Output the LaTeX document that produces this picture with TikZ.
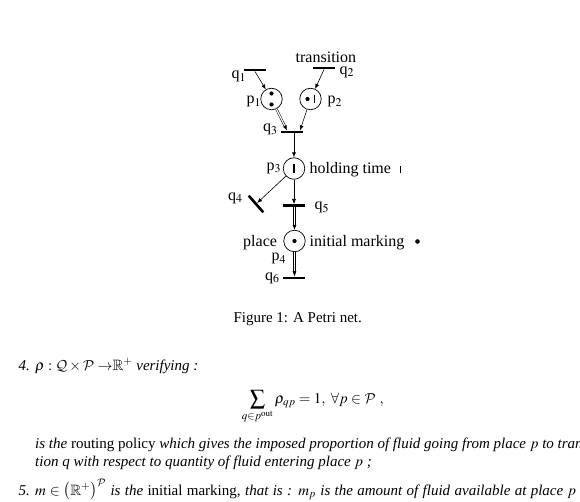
\documentclass[tikz,border=0pt]{standalone}
\usepackage{mathptmx}
\usepackage{amssymb}
\DeclareMathAlphabet{\mathcal}{OMS}{cmsy}{m}{n}
\usepackage{fontspec}
\setmainfont{Liberation Serif}
\usetikzlibrary{arrows.meta,calc}
\begin{document}
\begin{tikzpicture}[x=1pt,y=-1pt,
  place/.style={circle,draw,line width=0.7pt,minimum size=21.5pt,inner sep=0pt},
  trans/.style={rectangle,fill=black,minimum width=22pt,minimum height=2.6pt,inner sep=0pt},
  lbl/.style={font=\fontsize{16}{18}\selectfont,inner sep=0pt,anchor=base west},
  txt/.style={font=\fontsize{15}{18}\selectfont,inner sep=0pt,anchor=base west},
  arr/.style={-{Latex[length=5pt,width=4pt]},line width=0.6pt},
  dbl/.style={double,double distance=1.2pt,line width=0.5pt},
  tok/.style={fill=black,circle,inner sep=0pt,minimum size=4.2pt},
  tbar/.style={line width=1.1pt}]
\useasboundingbox (0,0) rectangle (580,502);
\clip (0,0) rectangle (580,502);
% places
\node[place] (p1) at (271.5,99) {};
\node[place] (p2) at (310.5,99) {};
\node[place] (p3) at (294,168.5) {};
\node[place] (p4) at (294.5,241) {};
% transitions
\node[trans] (q1) at (255,70) {};
\node[trans] (q2) at (324,68) {};
\node[trans] (q3) at (291.5,132) {};
\node[trans,rotate=-48.7] (q4) at (256,204) {};
\node[trans] (q5) at (293.5,205.5) {};
\node[trans] (q6) at (294,278) {};
% tokens
\node[tok] (t11) at ($(p1)+(0,-5.5)$) {};
\node[tok] (t12) at ($(p1)+(0,5.5)$) {};
\node[tok] (t21) at ($(p2)+(-3,0)$) {};
\draw[tbar] ($(p2)+(4,-4)$) -- ($(p2)+(4,4)$);
\draw[tbar] ($(p3)+(0,-4.3)$) -- ($(p3)+(0,4.3)$);
\node[tok] (t4) at (p4) {};
% single arcs
\draw[arr] (q1.south) -- (p1);
\draw[arr] (q2.south) -- (p2);
\coordinate (q3b) at ($(q3.north)+(8.5,0)$);
\draw[arr] (p2) -- (q3b);
\draw[arr] (q3.south -| p3) -- (p3);
\draw[arr] (p3) -- (p3 |- q5.north);
\draw[arr] (p3) -- (q4.north);
% double arcs
\coordinate (q3a) at ($(q3.north)+(-4.5,0)$);
\draw[dbl,shorten >=4.5pt] (p1) -- (q3a);
\draw[arr] ($(q3a)!5pt!(p1)$) -- (q3a);
\coordinate (p4n) at (p4.north);
\draw[dbl,shorten >=4.5pt] (q5.south -| p4) -- (p4n);
\draw[arr] ($(p4n)+(0,-5)$) -- (p4n);
\coordinate (q6n) at (p4 |- q6.north);
\draw[dbl,shorten >=4.5pt] (p4.south) -- (q6n);
\draw[arr] ($(q6n)+(0,-5)$) -- (q6n);
% labels
\node[lbl] (lt) at (295.5,62.5) {transition};
\node[lbl] (lq1) at (231.5,79) {q$_1$};
\node[lbl] (lq2) at (339.5,74.5) {q$_2$};
\node[lbl] (lp1) at (246.5,104) {p$_1$};
\node[lbl] (lp2) at (327.5,104) {p$_2$};
\node[lbl] (lq3) at (263,132) {q$_3$};
\node[lbl] (lp3) at (266.5,170.5) {p$_3$};
\node[lbl] (lh) at (309.5,173.5) {holding time};
\draw[line width=1pt] (400,166.5) -- (400,173.5);
\node[lbl] (lq4) at (228,200.5) {q$_4$};
\node[lbl] (lq5) at (314.5,210) {q$_5$};
\node[lbl] (lpl) at (243,246.7) {place};
\node[lbl] (lim) at (309.5,246.7) {initial marking};
\fill (417.5,241.5) circle (2.3);
\node[lbl] (lp4) at (271.5,261) {p$_4$};
\node[lbl] (lq6) at (265,280) {q$_6$};
% text
\node[txt] (cap) at (233.3,322.7) {Figure 1: A Petri net.};
\node[txt] (n4) at (18.3,370) {\itshape 4.};
\node[txt] (i4) at (35,370) {$\rho:\mathcal{Q}\times\mathcal{P}\;{\rightarrow}\mathbb{R}^+$ \textit{verifying :}};
\node[txt] (eq) at (241.7,403.3) {$\displaystyle\sum_{q\in p^{\mathrm{out}}}\rho_{qp}=1,\ \forall p\in\mathcal{P}\ ,$};
\node[txt] (l4a) at (35,448.3) {\textit{is the} routing policy \textit{which gives the imposed proportion of fluid going from place} $p$ \textit{to transi-}};
\node[txt] (l4b) at (35,466.7) {\textit{tion q with respect to quantity of fluid entering place} $p$ \textit{;}};
\node[txt] (n5) at (18.3,495) {\itshape 5.};
\node[txt] (i5) at (35,495) {\makebox[541pt][s]{$m\in\bigl(\mathbb{R}^+\bigr)^{\mathcal{P}}$ \textit{is the} initial marking, \textit{that is :} $m_p$ \textit{is the amount of fluid available at place} $p$}};
\end{tikzpicture}
\end{document}
